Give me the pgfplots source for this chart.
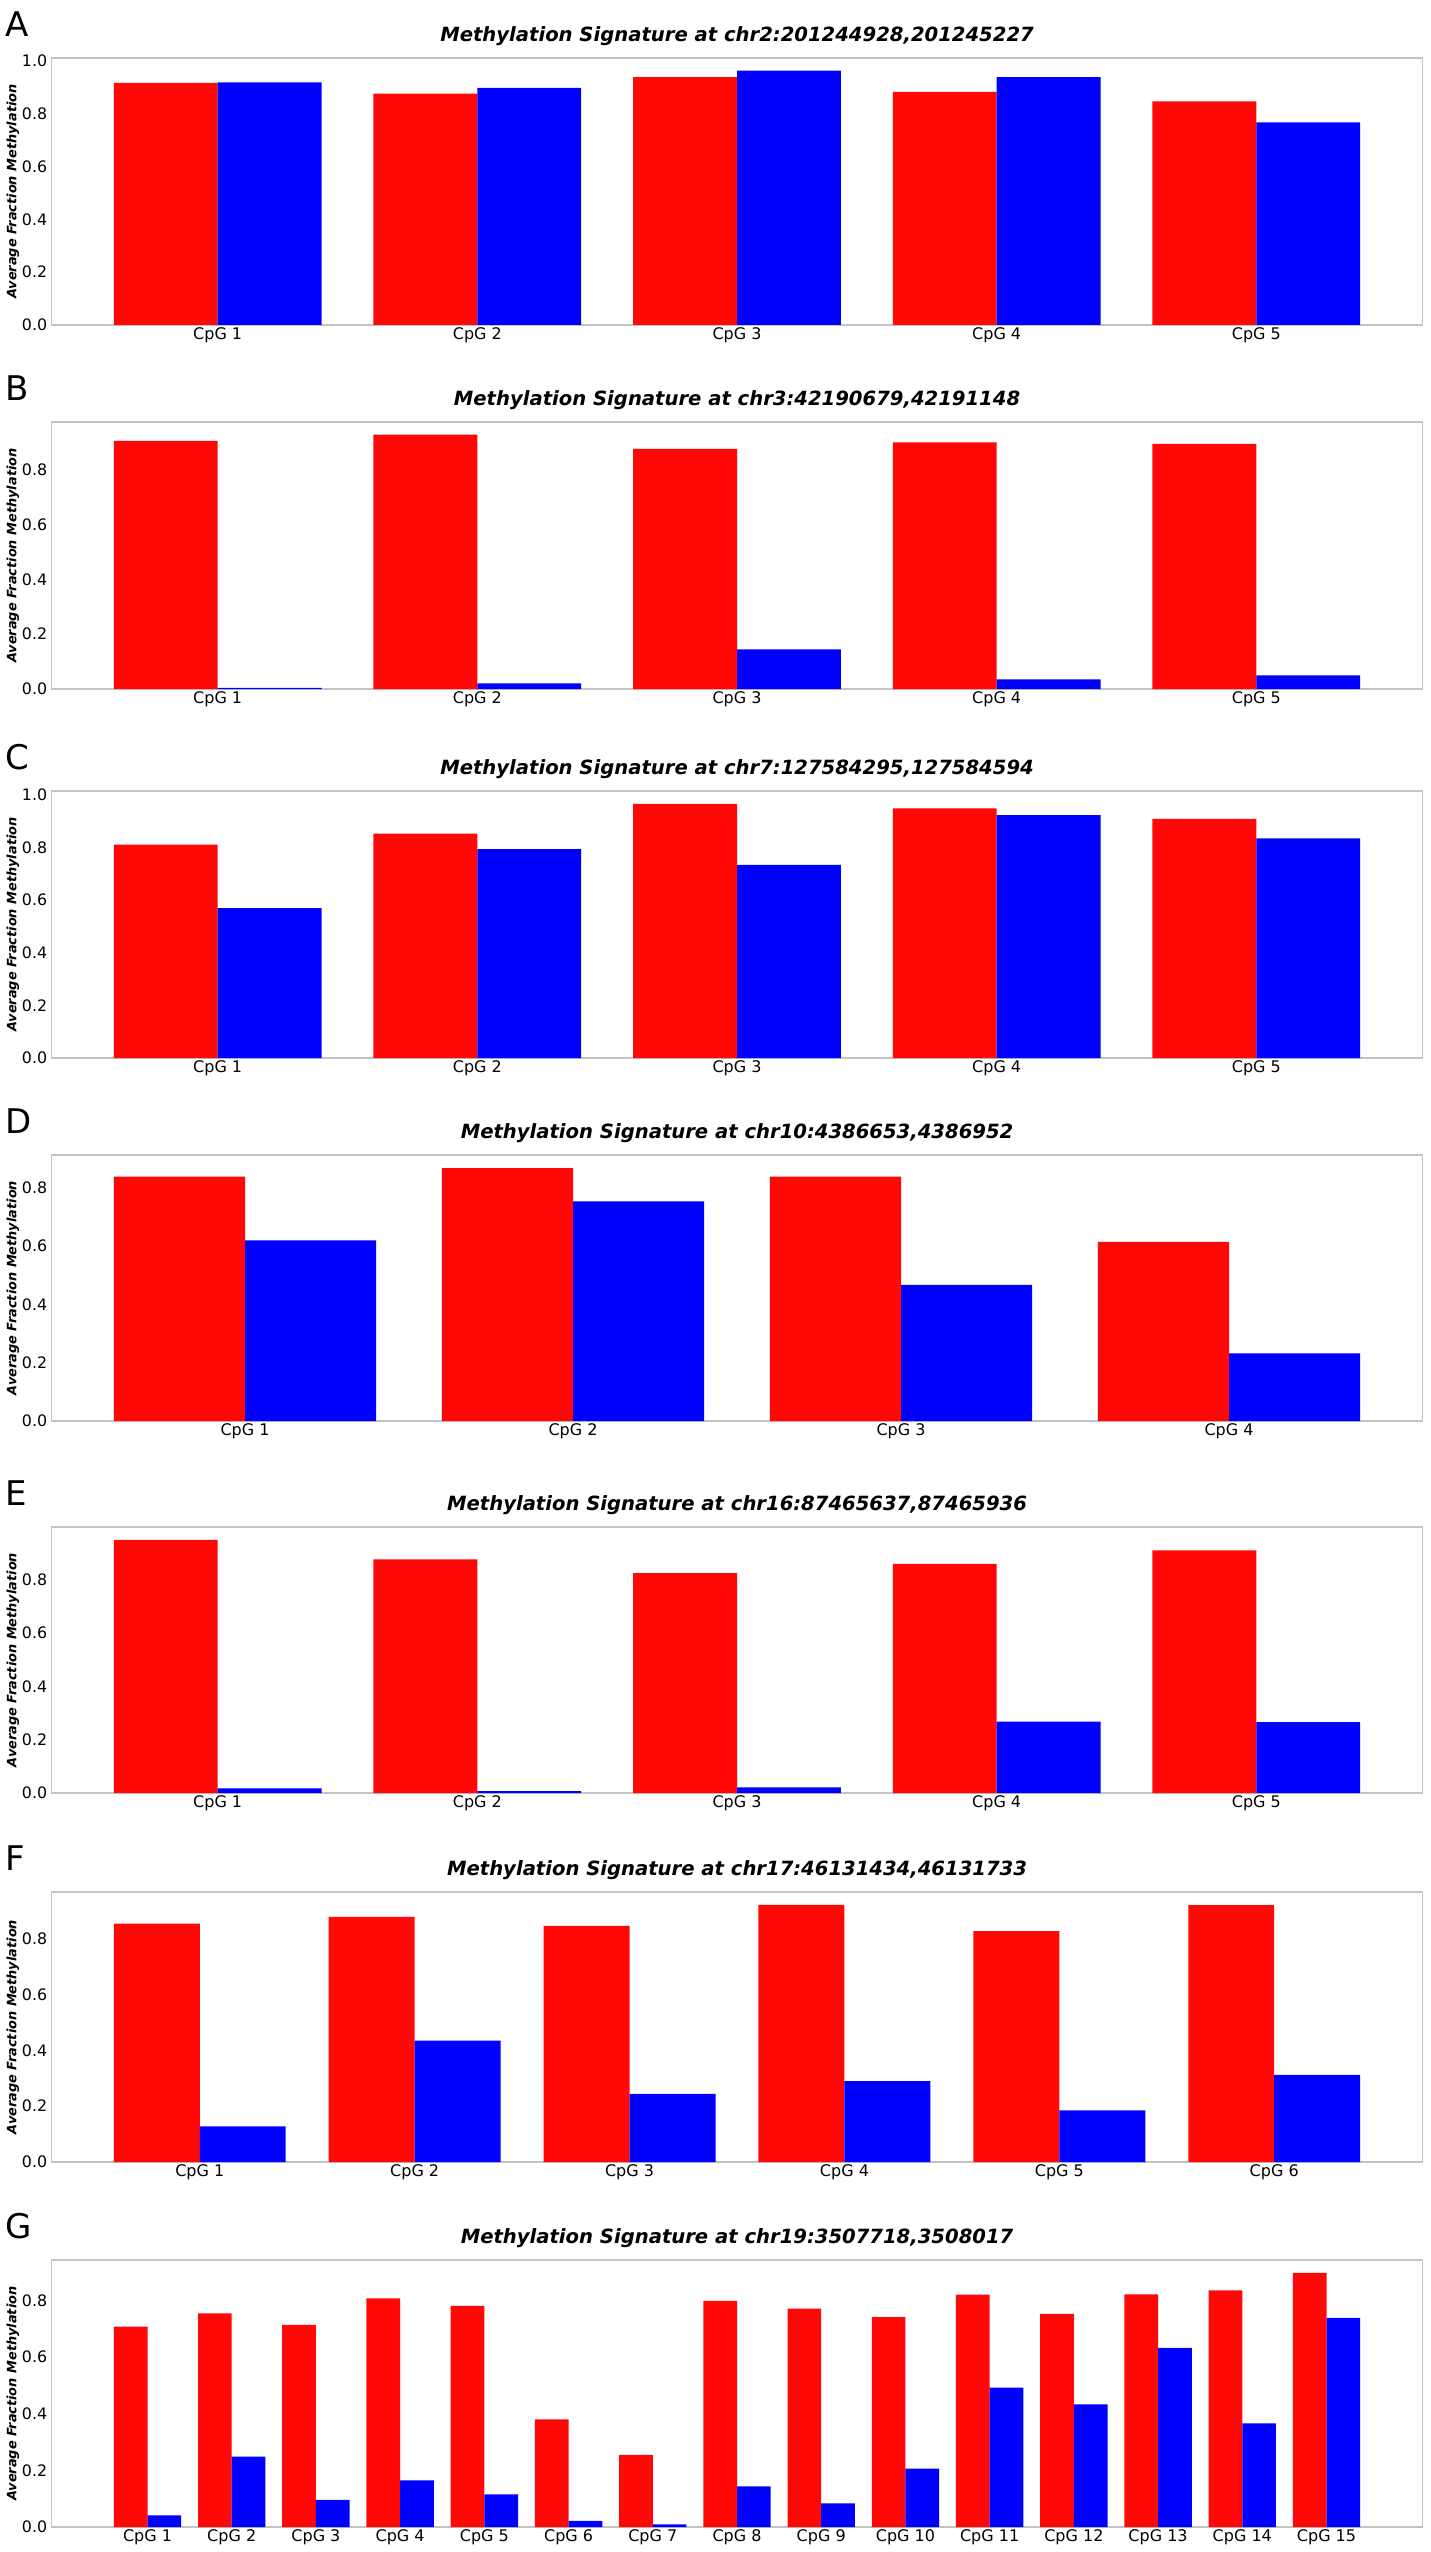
\documentclass[border=0pt]{standalone}
\usepackage{pgfplots}
\pgfplotsset{compat=1.18}
\usepackage{fontspec}
\setmainfont{DejaVu Sans}
\definecolor{framegray}{RGB}{195,195,195}
\definecolor{barred}{RGB}{255,8,8}
\definecolor{barblue}{RGB}{0,0,255}
\pgfplotsset{
  panel/.style={
    scale only axis,
    width=685.5pt,
    axis line style={draw=framegray, line width=0.8pt},
    major tick length=0pt,
    ymin=0,
    ytick={0,0.2,0.4,0.6,0.8,1.0},
    yticklabel style={/pgf/number format/fixed,/pgf/number format/precision=1,/pgf/number format/fixed zerofill, font=\fontsize{7.9pt}{9pt}\selectfont, inner sep=2pt},
    /pgf/number format/assume math mode=true,
    xticklabel style={font=\fontsize{8pt}{9pt}\selectfont, inner sep=1pt},
    title style={at={(0.5,1)}, anchor=center, yshift=4.75pt, font=\fontsize{9.8pt}{11pt}\selectfont\bfseries\itshape},
    ylabel={Average Fraction Methylation},
    ylabel style={at={(axis description cs:-0.0281,0.5)}, anchor=center, font=\fontsize{6.45pt}{7pt}\selectfont\bfseries\itshape},
    clip=false,
  },
  redbar/.style={ybar, bar width=0.4, bar shift=-0.2, fill=barred, draw=none},
  bluebar/.style={ybar, bar width=0.4, bar shift=0.2, fill=barblue, draw=none},
}
\newcommand{\panelletter}[1]{\node[anchor=west, inner sep=0pt, font=\fontsize{17pt}{18pt}\selectfont] at ([xshift=-23pt,yshift=17pt]rel axis cs:0,1) {#1};}
\begin{document}
\begin{tikzpicture}
\useasboundingbox (0,0) rectangle (715pt,-1276pt);
% A
\begin{axis}[panel, at={(25.75pt,-29pt)}, anchor=north west, height=133.5pt,
  xmin=-0.64, xmax=4.64, ymax=1.011, xtick={0,1,2,3,4},
  xticklabels={CpG 1,CpG 2,CpG 3,CpG 4,CpG 5},
  title={Methylation Signature at chr2:201244928,201245227}]
\addplot[redbar] coordinates {(0,0.917) (1,0.876) (2,0.939) (3,0.883) (4,0.847)};
\addplot[bluebar] coordinates {(0,0.919) (1,0.898) (2,0.963) (3,0.939) (4,0.767)};
\panelletter{A}
\end{axis}
% B
\begin{axis}[panel, at={(25.75pt,-211pt)}, anchor=north west, height=133.5pt,
  xmin=-0.64, xmax=4.64, ymax=0.974, xtick={0,1,2,3,4},
  xticklabels={CpG 1,CpG 2,CpG 3,CpG 4,CpG 5},
  title={Methylation Signature at chr3:42190679,42191148}]
\addplot[redbar] coordinates {(0,0.905) (1,0.928) (2,0.876) (3,0.900) (4,0.894)};
\addplot[bluebar] coordinates {(0,0.004) (1,0.021) (2,0.145) (3,0.035) (4,0.050)};
\panelletter{B}
\end{axis}
% C
\begin{axis}[panel, at={(25.75pt,-395.5pt)}, anchor=north west, height=133.5pt,
  xmin=-0.64, xmax=4.64, ymax=1.015, xtick={0,1,2,3,4},
  xticklabels={CpG 1,CpG 2,CpG 3,CpG 4,CpG 5},
  title={Methylation Signature at chr7:127584295,127584594}]
\addplot[redbar] coordinates {(0,0.811) (1,0.853) (2,0.966) (3,0.949) (4,0.909)};
\addplot[bluebar] coordinates {(0,0.570) (1,0.794) (2,0.734) (3,0.923) (4,0.835)};
\panelletter{C}
\end{axis}
% D
\begin{axis}[panel, at={(25.75pt,-577.5pt)}, anchor=north west, height=133pt,
  xmin=-0.59, xmax=3.59, ymax=0.913, xtick={0,1,2,3},
  xticklabels={CpG 1,CpG 2,CpG 3,CpG 4},
  title={Methylation Signature at chr10:4386653,4386952}]
\addplot[redbar] coordinates {(0,0.839) (1,0.868) (2,0.839) (3,0.615)};
\addplot[bluebar] coordinates {(0,0.620) (1,0.754) (2,0.467) (3,0.232)};
\panelletter{D}
\end{axis}
% E
\begin{axis}[panel, at={(25.75pt,-763.5pt)}, anchor=north west, height=133pt,
  xmin=-0.64, xmax=4.64, ymax=0.998, xtick={0,1,2,3,4},
  xticklabels={CpG 1,CpG 2,CpG 3,CpG 4,CpG 5},
  title={Methylation Signature at chr16:87465637,87465936}]
\addplot[redbar] coordinates {(0,0.950) (1,0.877) (2,0.825) (3,0.860) (4,0.910)};
\addplot[bluebar] coordinates {(0,0.017) (1,0.007) (2,0.021) (3,0.268) (4,0.266)};
\panelletter{E}
\end{axis}
% F
\begin{axis}[panel, at={(25.75pt,-946pt)}, anchor=north west, height=135pt,
  xmin=-0.69, xmax=5.69, ymax=0.967, xtick={0,1,2,3,4,5},
  xticklabels={CpG 1,CpG 2,CpG 3,CpG 4,CpG 5,CpG 6},
  title={Methylation Signature at chr17:46131434,46131733}]
\addplot[redbar] coordinates {(0,0.854) (1,0.878) (2,0.846) (3,0.921) (4,0.827) (5,0.920)};
\addplot[bluebar] coordinates {(0,0.128) (1,0.435) (2,0.244) (3,0.290) (4,0.185) (5,0.312)};
\panelletter{F}
\end{axis}
% G
\begin{axis}[panel, at={(25.75pt,-1130pt)}, anchor=north west, height=133.5pt,
  xmin=-1.14, xmax=15.14, ymax=0.943, xtick={0,1,...,14},
  xticklabels={CpG 1,CpG 2,CpG 3,CpG 4,CpG 5,CpG 6,CpG 7,CpG 8,CpG 9,CpG 10,CpG 11,CpG 12,CpG 13,CpG 14,CpG 15},
  title={Methylation Signature at chr19:3507718,3508017}]
\addplot[redbar] coordinates {(0,0.708) (1,0.755) (2,0.714) (3,0.808) (4,0.781) (5,0.380) (6,0.255) (7,0.799) (8,0.771) (9,0.741) (10,0.821) (11,0.753) (12,0.822) (13,0.836) (14,0.898)};
\addplot[bluebar] coordinates {(0,0.041) (1,0.249) (2,0.096) (3,0.165) (4,0.115) (5,0.022) (6,0.009) (7,0.144) (8,0.084) (9,0.206) (10,0.492) (11,0.433) (12,0.633) (13,0.366) (14,0.739)};
\panelletter{G}
\end{axis}
\end{tikzpicture}
\end{document}
